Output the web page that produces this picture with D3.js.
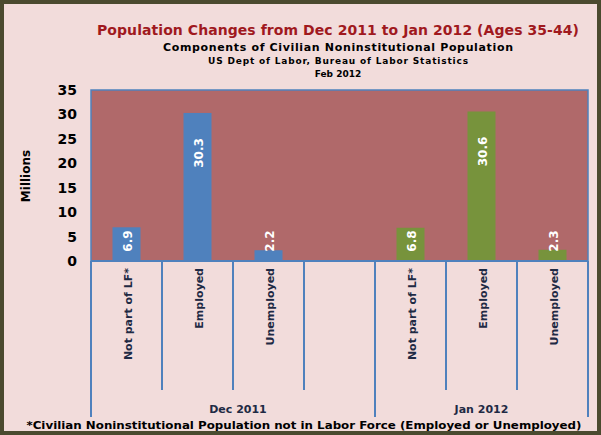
<!DOCTYPE html><html><head><meta charset="utf-8"><script src="https://d3js.org/d3.v7.min.js"></script>
<style>body{margin:0}svg{display:block}text{font-family:Verdana,"DejaVu Sans",sans-serif;font-weight:bold}</style></head><body><script>
const categories=["Not part of LF*","Employed","Unemployed","","Not part of LF*","Employed","Unemployed"];
const groups=["Dec 2011","Jan 2012"];
const values=[6.9,30.3,2.2,null,6.8,30.6,2.3];
const seriesOf=[0,0,0,null,1,1,1];
const colors=["#4f81bd","#77933c"];
const yTicks=[0,5,10,15,20,25,30,35];
const W=601,H=435;
const svg=d3.select("body").append("svg").attr("width",W).attr("height",H);
svg.append("rect").attr("x",2).attr("y",2).attr("width",W-4).attr("height",H-4).attr("fill","#f2dcdb").attr("stroke","#4b4a2f").attr("stroke-width",4);
const x=d3.scaleBand().domain(d3.range(7)).range([91,588]).padding(0);
const y=d3.scaleLinear().domain([0,35]).range([261,90]);
svg.append("rect").attr("x",91).attr("y",90).attr("width",497).attr("height",171).attr("fill","#b0696a").attr("stroke","#4f81bd").attr("stroke-width",1.5);
const t=svg.append("g").attr("text-anchor","middle");
t.append("text").attr("x",338).attr("y",35).attr("fill","#a0191e").attr("font-size",14).attr("textLength",482).text("Population Changes  from Dec 2011 to Jan 2012 (Ages 35-44)");
t.append("text").attr("x",338).attr("y",51).attr("font-size",11).attr("textLength",350).text("Components of Civilian Noninstitutional Population");
t.append("text").attr("x",338).attr("y",64).attr("font-size",9).attr("textLength",260).text("US Dept of Labor, Bureau of Labor Statistics");
t.append("text").attr("x",338).attr("y",77).attr("font-size",9).text("Feb 2012");
svg.append("g").attr("transform","translate(91,0)").call(d3.axisLeft(y).tickValues(yTicks).tickSize(0).tickPadding(14))
 .call(g=>{g.select(".domain").remove();g.selectAll("text").attr("font-size",14).attr("font-weight","bold").attr("fill","#000").attr("font-family","Verdana,DejaVu Sans,sans-serif");});
svg.append("text").attr("transform","translate(30,176) rotate(-90)").attr("text-anchor","middle").attr("font-size",12).text("Millions");
const bw=28;
values.forEach((v,i)=>{if(v==null)return;const cx=x(i)+x.bandwidth()/2;
 svg.append("rect").attr("x",cx-bw/2).attr("y",y(v)).attr("width",bw).attr("height",y(0)-y(v)).attr("fill",colors[seriesOf[i]]);
 const cy=v>10?y(v)+40:Math.min((y(v)+y(0))/2,y(0)-20);
 svg.append("text").attr("transform",`translate(${cx+5},${cy}) rotate(-90)`).attr("text-anchor","middle").attr("font-size",12).attr("fill","#fff").text(v.toFixed(1));
});
const ax=svg.append("g").attr("stroke","#4f81bd").attr("stroke-width",2);
d3.range(8).forEach(i=>{const xx=i<7?x(i):588;const big=(i===0||i===4||i===7);
 ax.append("line").attr("x1",xx).attr("x2",xx).attr("y1",261).attr("y2",big?417:390);});
ax.append("line").attr("x1",91).attr("x2",588).attr("y1",261).attr("y2",261);
categories.forEach((c,i)=>{if(!c)return;const cx=x(i)+x.bandwidth()/2;
 svg.append("text").attr("transform",`translate(${cx+5},268) rotate(-90)`).attr("text-anchor","end").attr("font-size",11).attr("fill","#1f2a44").text(c);});
svg.append("text").attr("x",(91+375)/2+5).attr("y",413).attr("text-anchor","middle").attr("font-size",11).attr("fill","#1f2a44").text(groups[0]);
svg.append("text").attr("x",(375+588)/2).attr("y",413).attr("text-anchor","middle").attr("font-size",11).attr("fill","#1f2a44").text(groups[1]);
svg.append("text").attr("x",304).attr("y",429).attr("text-anchor","middle").attr("font-size",11).attr("textLength",555).attr("lengthAdjust","spacingAndGlyphs").text("*Civilian Noninstitutional Population not in Labor Force (Employed or Unemployed)");
</script></body></html>
